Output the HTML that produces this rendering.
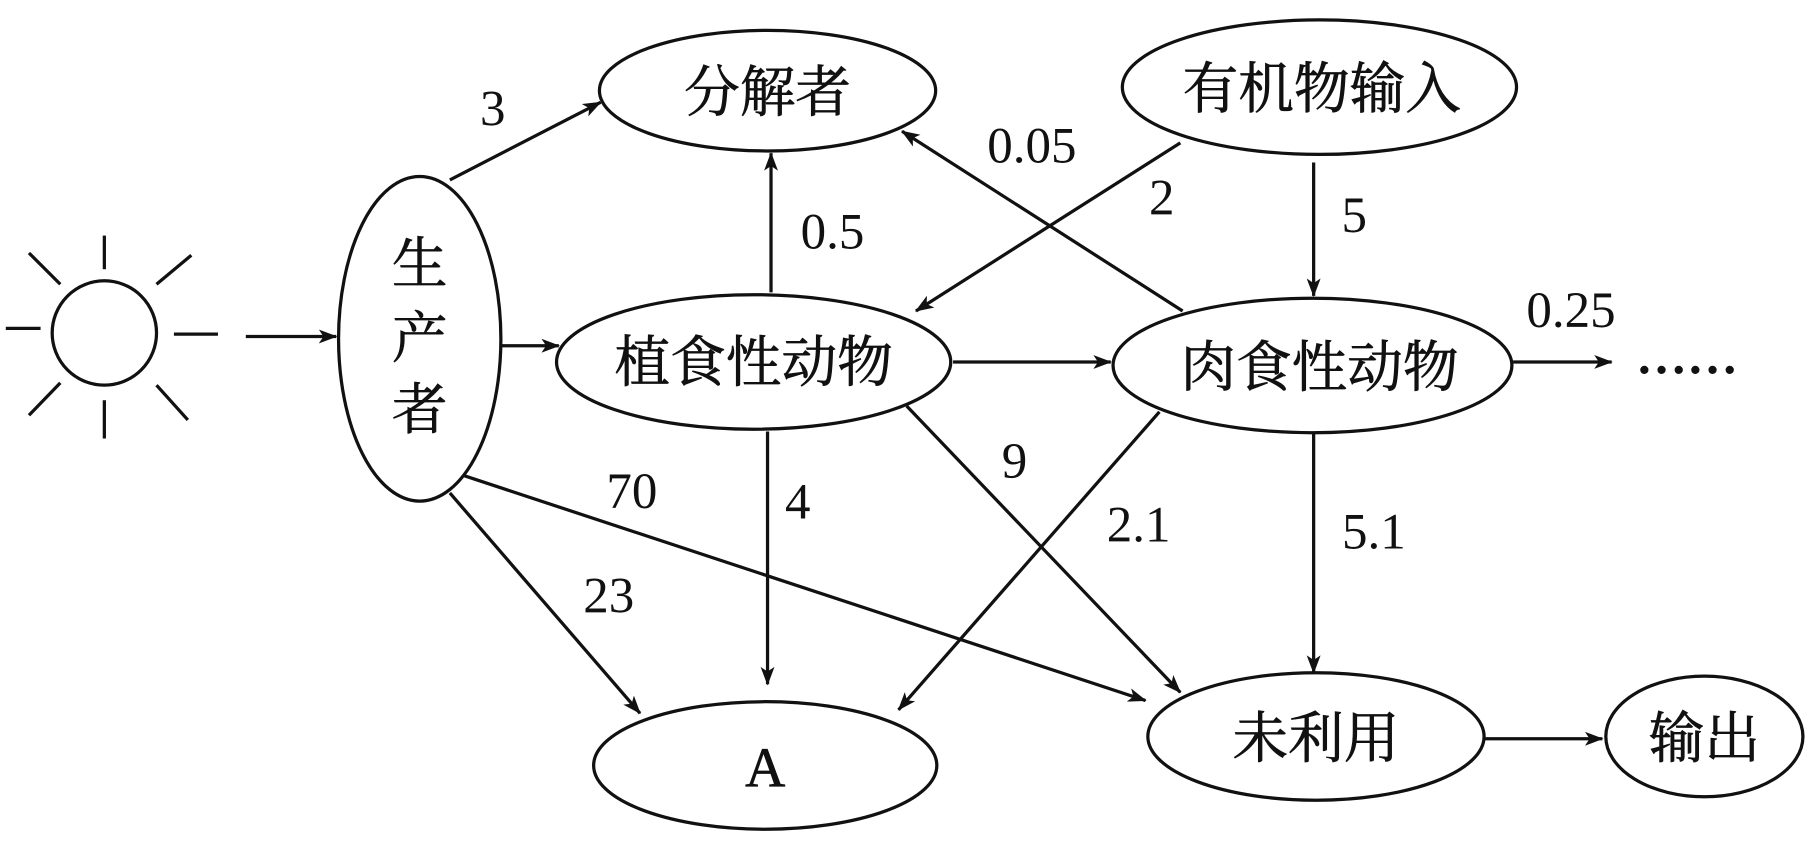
<!DOCTYPE html>
<html><head><meta charset="utf-8"><style>
html,body{margin:0;padding:0;background:#fff;}
svg{display:block}
text{font-family:"Liberation Serif","Noto Serif CJK SC",serif;fill:#111;}
</style></head><body>
<svg width="1818" height="848" viewBox="0 0 1568 731" xmlns="http://www.w3.org/2000/svg">
<defs><marker id="a" markerWidth="16" markerHeight="12" refX="15" refY="6" orient="auto" markerUnits="userSpaceOnUse"><path d="M0,0 L16,6 L0,12 L4,6 Z" fill="#111"/></marker></defs>
<g stroke="#111" stroke-width="2.8" fill="none">
<circle cx="90" cy="287" r="45"/>
<line x1="5" y1="283" x2="35" y2="283"/>
<line x1="90" y1="203" x2="90" y2="232"/>
<line x1="90" y1="345" x2="90" y2="378"/>
<line x1="25" y1="218" x2="52" y2="245"/>
<line x1="135" y1="245" x2="165" y2="220"/>
<line x1="25" y1="358" x2="52" y2="330"/>
<line x1="135" y1="332" x2="162" y2="362"/>
<line x1="150" y1="288" x2="188" y2="288"/>
<line x1="212" y1="290" x2="290" y2="290" marker-end="url(#a)"/>
<ellipse cx="362" cy="292" rx="70" ry="140"/>
<ellipse cx="662" cy="78" rx="145" ry="52"/>
<ellipse cx="1138" cy="75" rx="170" ry="58"/>
<ellipse cx="650" cy="312" rx="170" ry="58"/>
<ellipse cx="1132" cy="315" rx="172" ry="58"/>
<ellipse cx="660" cy="660" rx="148" ry="55"/>
<ellipse cx="1135" cy="635" rx="145" ry="55"/>
<ellipse cx="1470" cy="635" rx="85" ry="52"/>
<g marker-end="url(#a)">
<line x1="388" y1="155" x2="518" y2="88"/>
<line x1="432" y1="298" x2="482" y2="298"/>
<line x1="665" y1="252" x2="665" y2="132"/>
<line x1="1020" y1="268" x2="778" y2="113"/>
<line x1="1018" y1="123" x2="790" y2="268"/>
<line x1="1133" y1="140" x2="1133" y2="255"/>
<line x1="822" y1="312" x2="958" y2="312"/>
<line x1="1305" y1="312" x2="1390" y2="312"/>
<line x1="662" y1="372" x2="662" y2="590"/>
<line x1="782" y1="350" x2="1018" y2="597"/>
<line x1="1000" y1="355" x2="775" y2="612"/>
<line x1="1133" y1="373" x2="1133" y2="580"/>
<line x1="400" y1="410" x2="988" y2="604"/>
<line x1="388" y1="425" x2="552" y2="615"/>
<line x1="1280" y1="637" x2="1382" y2="637"/>
</g></g>
<g font-size="48" text-anchor="middle" stroke="#111" stroke-width="0.6">
<text x="362" y="244">生</text><text x="362" y="308">产</text><text x="362" y="370">者</text>
<text x="662" y="96">分解者</text>
<text x="1140" y="93">有机物输入</text>
<text x="650" y="329">植食性动物</text>
<text x="1138" y="333">肉食性动物</text>
<text x="660" y="678">A</text>
<text x="1135" y="653">未利用</text>
<text x="1470" y="653">输出</text>
</g>
<g font-size="44" text-anchor="middle">
<text x="425" y="108">3</text>
<text x="718" y="214">0.5</text>
<text x="890" y="140">0.05</text>
<text x="1002" y="185">2</text>
<text x="1168" y="200">5</text>
<text x="1355" y="282">0.25</text>
<text x="1455" y="322" font-weight="bold">……</text>
<text x="688" y="447">4</text>
<text x="875" y="412">9</text>
<text x="982" y="467">2.1</text>
<text x="1185" y="473">5.1</text>
<text x="545" y="438">70</text>
<text x="525" y="528">23</text>
</g>
</svg>
</body></html>
